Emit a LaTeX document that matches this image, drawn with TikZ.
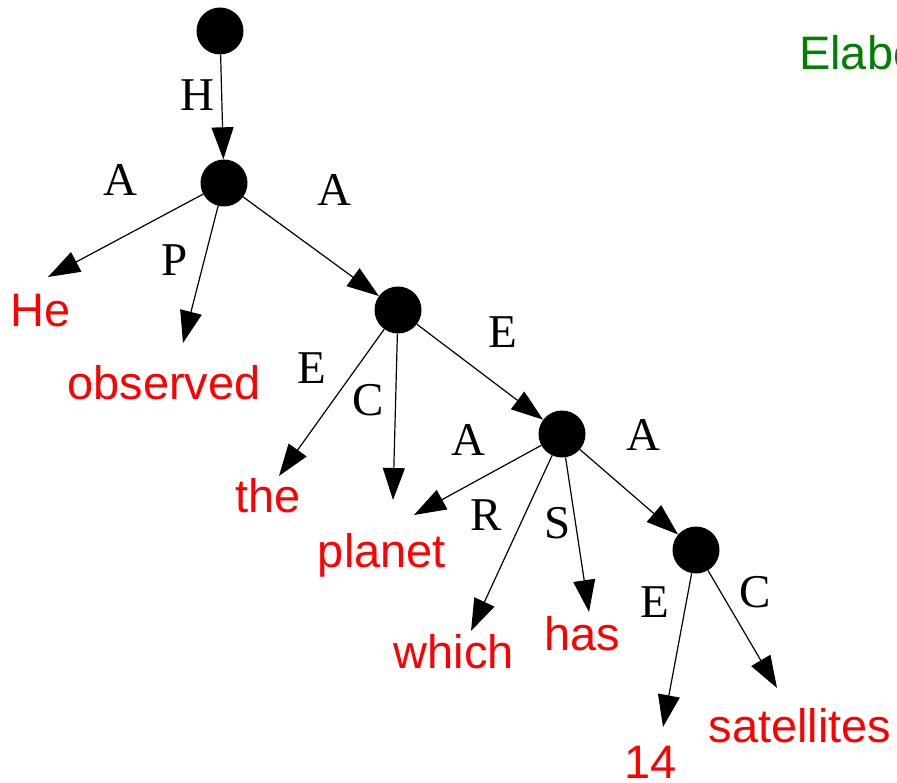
\documentclass[tikz,border=0pt]{standalone}
\usepackage{fontspec}
\setmainfont{Liberation Serif}
\newfontfamily\wordfont{Liberation Sans}
\usetikzlibrary{arrows.meta}

\begin{document}
\begin{tikzpicture}[x=1pt,y=-1pt,>={Triangle[length=32pt,width=22pt]},
unit/.style={circle,fill=black,minimum size=47pt,inner sep=0pt},
word/.style={anchor=base,inner sep=0pt,text=red,font=\wordfont\fontsize{47}{47}\selectfont},
lab/.style={inner sep=0pt,font=\fontsize{47}{47}\selectfont},
edge/.style={->,line width=1.2pt}]
\useasboundingbox (0,0) rectangle (897,783);
\clip (0,0) rectangle (897,783);
% units
\node[unit] (root) at (220,31) {};
\node[unit] (n1) at (224,183) {};
\node[unit] (n2) at (398,310) {};
\node[unit] (n3) at (562,434) {};
\node[unit] (n4) at (696,550) {};
% words
\node[word] (he) at (41,327) {He};
\node[word] (observed) at (164,400) {observed};
\node[word] (the) at (268,512) {the};
\node[word] (planet) at (382,567) {planet};
\node[word] (which) at (454,668) {which};
\node[word] (has) at (582,650) {has};
\node[word] (fourteen) at (651,778) {14};
\node[word] (satellites) at (800,742) {satellites};
\node[word,anchor=base west,text=green!50!black] (elab) at (799,70) {Elaboration};
% arrow ends above the words
\coordinate (he-in) at (48,277);
\coordinate (observed-in) at (183,343);
\coordinate (the-in) at (279,476);
\coordinate (planet-in) at (393,500);
\coordinate (planet-in2) at (414,515);
\coordinate (which-in) at (471,631);
\coordinate (has-in) at (589,612);
\coordinate (fourteen-in) at (663,727);
\coordinate (satellites-in) at (777,688);
% edges
\draw[edge] (root)--(n1);
\draw[edge] (n1)--(he-in);\draw[edge] (n1)--(observed-in);\draw[edge] (n1)--(n2);
\draw[edge] (n2)--(the-in);\draw[edge] (n2)--(planet-in);\draw[edge] (n2)--(n3);
\draw[edge] (n3)--(planet-in2);\draw[edge] (n3)--(which-in);\draw[edge] (n3)--(has-in);
\draw[edge] (n3)--(n4);
\draw[edge] (n4)--(fourteen-in);\draw[edge] (n4)--(satellites-in);
% edge labels
\node[lab] (l-h) at (197,95) {H};
\node[lab] (l-a1) at (120,180) {A};
\node[lab] (l-p) at (175,260) {P};
\node[lab] (l-a2) at (334,190) {A};
\node[lab] (l-e1) at (312,368) {E};
\node[lab] (l-c1) at (368,400) {C};
\node[lab] (l-e2) at (503,332) {E};
\node[lab] (l-a3) at (468,440) {A};
\node[lab] (l-r) at (486,515) {R};
\node[lab] (l-s) at (558,523) {S};
\node[lab] (l-a4) at (643,435) {A};
\node[lab] (l-e3) at (655,602) {E};
\node[lab] (l-c2) at (755,592) {C};
\end{tikzpicture}
\end{document}
